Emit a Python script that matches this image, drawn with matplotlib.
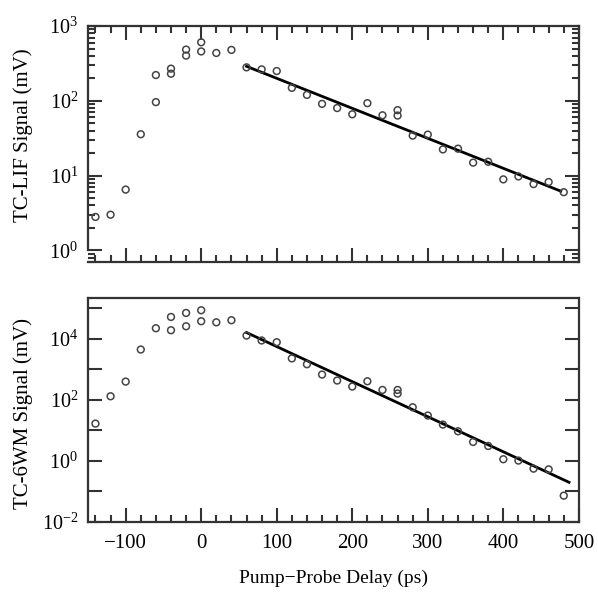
import numpy as np
import matplotlib
matplotlib.use('Agg')
import matplotlib.pyplot as plt
from matplotlib.ticker import FixedLocator, FuncFormatter, MultipleLocator, LogLocator, NullFormatter

plt.rcParams['font.family'] = ['Liberation Serif', 'DejaVu Serif']
plt.rcParams['mathtext.fontset'] = 'stix'

# delay (ps) for the measured points
lif_t = [-140, -120, -100, -80, -60, -60, -40, -40, -20, -20, 0, 0, 20, 40,
         60, 80, 100, 120, 140, 160, 180, 200, 220, 240, 260, 260, 280, 300,
         320, 340, 360, 380, 400, 420, 440, 460, 480]
lif_sig = [2.8, 3.0, 6.5, 35.7, 96, 221, 269, 230, 484, 402, 606, 457, 436, 479,
           280, 263, 250, 149, 120, 91, 80, 66, 93, 64, 75, 63.5, 34.2, 35.3,
           22.4, 22.9, 14.9, 15.3, 8.9, 9.75, 7.7, 8.2, 6.0]
lif_fit_t = [60, 476]
lif_fit = [289, 6.2]

wm_t = [-140, -120, -100, -80, -60, -40, -40, -20, -20, 0, 0, 20, 40,
        60, 80, 100, 120, 140, 160, 180, 200, 220, 240, 260, 260, 280, 300,
        320, 340, 360, 380, 400, 420, 440, 460, 480]
wm_sig = [16.8, 132, 400, 4.5e3, 2.24e4, 5.25e4, 1.93e4, 7.1e4, 2.6e4, 8.7e4, 3.8e4,
          3.5e4, 4.1e4, 1.29e4, 8.9e3, 7.8e3, 2.3e3, 1.48e3, 680, 433, 275, 410,
          213, 213, 162, 57.6, 30.8, 15.6, 9.4, 4.2, 3.1, 1.14, 1.03, 0.56, 0.53, 0.073]
wm_fit_t = [60, 487]
wm_fit = [1.62e4, 0.2]

fig = plt.figure(figsize=(5.98, 5.95), dpi=100)
ax1 = fig.add_axes([0.147, 0.5597, 0.821, 0.3966])
ax2 = fig.add_axes([0.147, 0.1227, 0.821, 0.3765])

spine_col = '#333333'
label_fs = 15

for ax in (ax1, ax2):
    ax.set_yscale('log')
    ax.set_xlim(-150, 500)
    ax.xaxis.set_major_locator(MultipleLocator(100))
    ax.xaxis.set_minor_locator(MultipleLocator(20))
    for s in ax.spines.values():
        s.set_color(spine_col)
        s.set_linewidth(1.6)
    ax.tick_params(which='major', direction='in', length=10, width=1.5, color=spine_col)
    ax.tick_params(which='minor', direction='in', length=5, width=1.5, color=spine_col)
    ax.tick_params(axis='y', labelsize=14.5, pad=7)
    ax.tick_params(axis='x', labelsize=15, pad=9)

# top panel
ax1.scatter(lif_t, lif_sig, s=24, facecolors='none', edgecolors='#444444', linewidths=1.1, zorder=3)
ax1.plot(lif_fit_t, lif_fit, color='black', lw=2.0)
ax1.set_ylim(0.70, 1000)
ax1.spines['left'].set_bounds(1, 1000)
ax1.yaxis.set_major_locator(LogLocator(base=10, numticks=10))
ax1.yaxis.set_minor_locator(LogLocator(base=10, subs=np.arange(2, 10), numticks=10))
ax1.yaxis.set_minor_formatter(NullFormatter())
ax1.tick_params(axis='x', which='both', top=True, bottom=True, labelbottom=False)
ax1.tick_params(axis='y', which='both', left=True, right=True)
ax1.set_ylabel('TC-LIF Signal (mV)', fontsize=label_fs)
ax1.yaxis.set_label_coords(-0.112, 0.538)

# bottom panel
ax2.scatter(wm_t, wm_sig, s=24, facecolors='none', edgecolors='#444444', linewidths=1.1, zorder=3)
ax2.plot(wm_fit_t, wm_fit, color='black', lw=2.0)
ax2.set_ylim(1e-2, 2.2e5)
ax2.yaxis.set_major_locator(FixedLocator([10.0 ** k for k in range(-2, 6)]))
ax2.yaxis.set_minor_locator(FixedLocator([]))


def even_pow(v, pos):
    k = int(round(np.log10(v)))
    if k % 2:
        return ''
    return r'$\mathdefault{10^{%d}}$' % k


ax2.yaxis.set_major_formatter(FuncFormatter(even_pow))
ax2.tick_params(axis='x', which='both', top=False, bottom=True)
ax2.tick_params(axis='y', which='both', left=True, right=True)
ax2.xaxis.set_major_formatter(FuncFormatter(lambda v, p: ('%d' % v).replace('-', '\u2212') if v != 0 else '0'))
ax2.set_ylabel('TC-6WM Signal (mV)', fontsize=label_fs)
ax2.yaxis.set_label_coords(-0.112, 0.484)
ax2.set_xlabel('Pump\u2212Probe Delay (ps)', fontsize=14, labelpad=12)

fig.savefig('out.png', dpi=100)
